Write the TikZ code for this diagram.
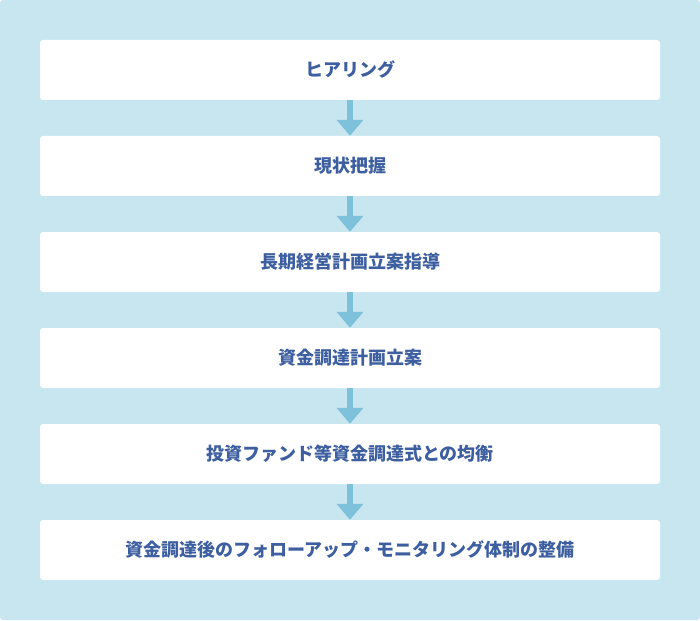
\documentclass[tikz,border=0pt]{standalone}
\usepackage{fontspec}
\newfontfamily\jpfont{Noto Sans CJK JP}
\usetikzlibrary{arrows.meta, positioning}
\definecolor{bgcolor}   {RGB}{200, 230, 240}
\definecolor{flowcolor} {RGB}{125, 194, 218}
\definecolor{textcolor} {RGB}{ 61,  95, 160}
\tikzset{
	stepbox/.style={
		rectangle, rounded corners=3pt,
		minimum width=620pt, minimum height=60pt,
		align=center, font=\jpfont\bfseries\fontsize{18pt}{21pt}\selectfont,
		fill=white, draw=none, text=textcolor,
		inner sep=0pt
	},
	flowarrow/.style={
		-{Triangle[width=26pt, length=16pt]}, line width=6pt, color=flowcolor
	}
}

\begin{document}
\begin{tikzpicture}[x=1pt, y=-1pt]
		%% ═══════════════════════════════
		%%  BACKGROUND
		%% ═══════════════════════════════
		\fill[bgcolor, rounded corners=3pt] (0,0) rectangle (700,620);
		\useasboundingbox (0,0) rectangle (700,620);
		
		%% ═══════════════════════════════
		%%  STEPS
		%% ═══════════════════════════════
		\node[stepbox] (hearing)  at (350,70)  {ヒアリング};
		\node[stepbox] (status)   at (350,166) {現状把握};
		\node[stepbox] (plan)     at (350,262) {長期経営計画立案指導};
		\node[stepbox] (funding)  at (350,358) {資金調達計画立案};
		\node[stepbox] (balance)  at (350,454) {投資ファンド等資金調達式との均衡};
		\node[stepbox] (followup) at (350,550) {資金調達後のフォローアップ・モニタリング体制の整備};
		
		%% ═══════════════════════════════
		%%  ARROWS
		%% ═══════════════════════════════
		\draw[flowarrow] (hearing.south) -- (status.north);
		\draw[flowarrow] (status.south)  -- (plan.north);
		\draw[flowarrow] (plan.south)    -- (funding.north);
		\draw[flowarrow] (funding.south) -- (balance.north);
		\draw[flowarrow] (balance.south) -- (followup.north);
		
\end{tikzpicture}
\end{document}
